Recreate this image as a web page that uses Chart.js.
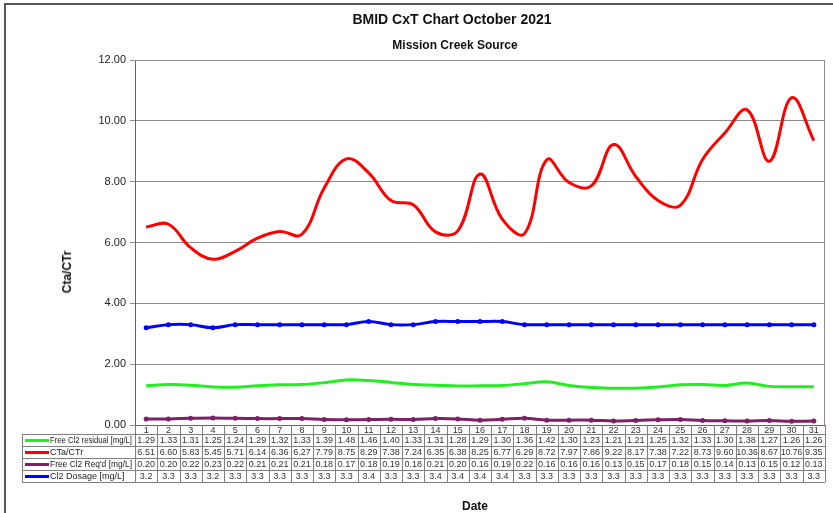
<!DOCTYPE html>
<html>
<head>
<meta charset="utf-8">
<script src="https://cdn.jsdelivr.net/npm/chart.js@4.4.0/dist/chart.umd.min.js"></script>
<style>
  body { margin: 0; background: #fff; font-family: "Liberation Sans", Arial, sans-serif; }
  #wrap { position: relative; width: 833px; height: 513px; overflow: hidden; }
  #frame { position: absolute; left: 4px; top: 3px; right: -10px; bottom: -10px; border-left: 2px solid #555; border-top: 2px solid #555; }
  #cxt { position: absolute; left: 0; top: 0; }
  .t { position: absolute; font-weight: bold; color: #111; white-space: nowrap; }
</style>
</head>
<body>
<div id="wrap">
  <div id="frame"></div>
  <canvas id="cxt" width="833" height="513"></canvas>
  <div class="t" style="left:452px;top:11px;font-size:14px;transform:translateX(-50%)">BMID CxT Chart October 2021</div>
  <div class="t" style="left:455px;top:38px;font-size:12px;transform:translateX(-50%)">Mission Creek Source</div>
  <div class="t" style="left:67px;top:272px;font-size:12px;transform:translate(-50%,-50%) rotate(-90deg)">Cta/CTr</div>
  <div class="t" style="left:475px;top:499px;font-size:12px;transform:translateX(-50%)">Date</div>
</div>
<script>
// DATA
const days = ['1','2','3','4','5','6','7','8','9','10','11','12','13','14','15','16','17','18','19','20','21','22','23','24','25','26','27','28','29','30','31'];

const freeCl2Residual = [1.29, 1.33, 1.31, 1.25, 1.24, 1.29, 1.32, 1.33, 1.39, 1.48, 1.46, 1.40, 1.33, 1.31, 1.28, 1.29,
  1.30, 1.36, 1.42, 1.30, 1.23, 1.21, 1.21, 1.25, 1.32, 1.33, 1.30, 1.38, 1.27, 1.26, 1.26];

const ctaCtr = [6.51, 6.60, 5.83, 5.45, 5.71, 6.14, 6.36, 6.27, 7.79, 8.75, 8.29, 7.38, 7.24, 6.35, 6.38, 8.25,
  6.77, 6.29, 8.72, 7.97, 7.86, 9.22, 8.17, 7.38, 7.22, 8.73, 9.60, 10.36, 8.67, 10.76, 9.35];

const freeCl2Reqd = [0.20, 0.20, 0.22, 0.23, 0.22, 0.21, 0.21, 0.21, 0.18, 0.17, 0.18, 0.19, 0.18, 0.21, 0.20, 0.16,
  0.19, 0.22, 0.16, 0.16, 0.16, 0.13, 0.15, 0.17, 0.18, 0.15, 0.14, 0.13, 0.15, 0.12, 0.13];

const cl2Dosage = [3.2, 3.3, 3.3, 3.2, 3.3, 3.3, 3.3, 3.3, 3.3, 3.3, 3.4, 3.3, 3.3, 3.4, 3.4, 3.4,
  3.4, 3.3, 3.3, 3.3, 3.3, 3.3, 3.3, 3.3, 3.3, 3.3, 3.3, 3.3, 3.3, 3.3, 3.3];

const seriesNames = ['Free Cl2 residual [mg/L]', 'CTa/CTr', "Free Cl2 Req'd [mg/L]", 'Cl2 Dosage [mg/L]'];
const seriesColors = ['#22ee22', '#ff0000', '#7f1f6a', '#0000ff'];
const seriesDecimals = [2, 2, 2, 1];

// plot frame (top + right edges) like the excel plot area
const plotBorder = {
  id: 'plotBorder',
  beforeDatasetsDraw(chart) {
    const { ctx, chartArea: a } = chart;
    ctx.save();
    ctx.strokeStyle = '#8c8c8c';
    ctx.lineWidth = 1;
    ctx.beginPath();
    ctx.moveTo(a.left, a.top + 0.5);
    ctx.lineTo(a.right - 0.5, a.top + 0.5);
    ctx.lineTo(a.right - 0.5, a.bottom);
    ctx.stroke();
    ctx.restore();
  }
};

// DATA TABLE under the x axis, columns follow the category scale
const dataTable = {
  id: 'dataTable',
  afterDraw(chart) {
    const ctx = chart.ctx;
    const a = chart.chartArea;
    const xs = chart.scales.x;
    const colW = xs.width / days.length;
    const top = a.bottom;
    const headH = 9, rowH = 12, legendLeft = 22;
    const bottom = top + headH + rowH * chart.data.datasets.length;

    ctx.save();
    ctx.strokeStyle = '#808080';
    ctx.lineWidth = 1;
    ctx.beginPath();
    for (let i = 0; i <= days.length; i++) {
      const px = Math.round(a.left + i * colW) + 0.5;
      ctx.moveTo(px, top);
      ctx.lineTo(px, bottom);
    }
    for (let r = 0; r <= chart.data.datasets.length; r++) {
      const py = Math.round(top + headH + r * rowH) + 0.5;
      ctx.moveTo(legendLeft, py);
      ctx.lineTo(Math.round(a.right), py);
    }
    ctx.moveTo(legendLeft + 0.5, top + headH);
    ctx.lineTo(legendLeft + 0.5, bottom);
    ctx.stroke();

    ctx.font = '9px "Liberation Sans", Arial, sans-serif';
    ctx.fillStyle = '#333';
    ctx.textAlign = 'center';
    ctx.textBaseline = 'middle';
    days.forEach((d, i) => {
      ctx.fillText(d, xs.getPixelForValue(i), top + headH / 2 + 1);
    });

    chart.data.datasets.forEach((ds, r) => {
      const cy = top + headH + r * rowH + rowH / 2 + 1;
      // legend key
      ctx.strokeStyle = ds.borderColor;
      ctx.lineWidth = 3;
      ctx.beginPath();
      ctx.moveTo(25, cy - 0.5);
      ctx.lineTo(49, cy - 0.5);
      ctx.stroke();
      ctx.fillStyle = '#222';
      ctx.textAlign = 'left';
      ctx.fillText(ds.label, 50, cy, a.left - 53);
      ctx.fillStyle = '#333';
      ctx.textAlign = 'center';
      ds.data.forEach((v, i) => {
        ctx.fillText(v.toFixed(seriesDecimals[r]), xs.getPixelForValue(i), cy, colW - 1);
      });
    });
    ctx.restore();
  }
};

const allSeries = [freeCl2Residual, ctaCtr, freeCl2Reqd, cl2Dosage];

new Chart(document.getElementById('cxt').getContext('2d'), {
  type: 'line',
  data: {
    labels: days,
    datasets: allSeries.map((vals, i) => ({
      label: seriesNames[i],
      data: vals,
      borderColor: seriesColors[i],
      backgroundColor: seriesColors[i],
      borderWidth: 3,
      tension: 0.4,
      pointRadius: (i >= 2) ? 1 : 0,
      fill: false
    }))
  },
  options: {
    responsive: false,
    animation: false,
    layout: { padding: { left: 5, right: 8, top: 60, bottom: 88 } },
    plugins: {
      legend: { display: false },
      title: { display: false },
      tooltip: { enabled: false }
    },
    scales: {
      x: {
        offset: true,
        afterFit(scale) { scale.height = 0; },
        ticks: { display: false },
        grid: { display: false },
        border: { color: '#666', width: 1 }
      },
      y: {
        min: 0,
        max: 12,
        afterFit(scale) { scale.width = 130; },
        ticks: {
          stepSize: 2,
          padding: 4,
          color: '#222',
          font: { family: '"Liberation Sans", Arial, sans-serif', size: 11 },
          callback: v => v.toFixed(2)
        },
        grid: { color: '#8c8c8c', tickLength: 5 },
        border: { color: '#666', width: 1 }
      }
    }
  },
  plugins: [plotBorder, dataTable]
});
</script>
</body>
</html>
